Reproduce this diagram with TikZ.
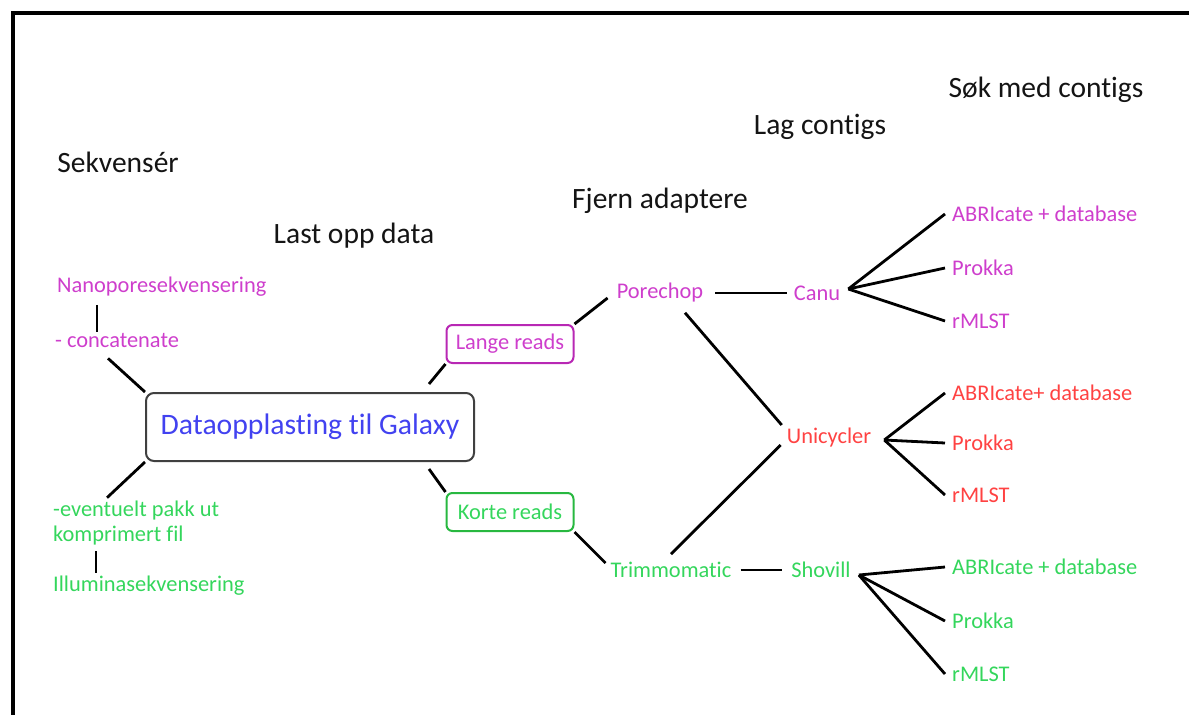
\documentclass[tikz,border=0pt]{standalone}
\usepackage{fontspec}
\setmainfont{Carlito}[Ligatures=NoCommon]
\usepackage{tikz}
\usetikzlibrary{calc,positioning}
\definecolor{nanoMagenta}{RGB}{206,62,204}
\definecolor{nanoMagentaDark}{RGB}{184,40,180}
\definecolor{uniRed}{RGB}{255,66,66}
\definecolor{illuGreen}{RGB}{52,214,92}
\definecolor{illuGreenDark}{RGB}{40,184,64}
\definecolor{galBlue}{RGB}{66,66,240}
\definecolor{boxgray}{RGB}{64,64,64}
\definecolor{hdrgray}{RGB}{20,20,20}

\tikzset{
  stage/.style={text=hdrgray, inner sep=0pt, font=\fontsize{29.5}{34}\selectfont},
  tool/.style={inner sep=0pt, font=\fontsize{22.4}{25}\selectfont},
  leaf/.style={tool, anchor=west, inner xsep=7pt},
  readsbox/.style={tool, draw, line width=2pt, rounded corners=6pt, minimum width=127pt, minimum height=38pt},
  galbox/.style={draw=boxgray, line width=2pt, rounded corners=8pt, minimum width=328pt, minimum height=68pt,
    text=galBlue, font=\fontsize{29.7}{34}\selectfont},
  link/.style={line width=2.8pt, black}
}

\begin{document}
\begin{tikzpicture}[x=1pt,y=-1pt]
    \useasboundingbox (0,0) rectangle (1189,715);
    \draw[line width=4pt] (12.5,715) |- (1189,12.5);

    \node[stage] (sekv) at (118,162) {Sekvensér};
    \node[stage] (lastopp) at (354,236) {Last opp data};
    \node[stage] (fjern) at (660,201) {Fjern adaptere};
    \node[stage] (lag) at (820,127) {Lag contigs};
    \node[stage] (sok) at (1046,90) {Søk med contigs};

    \node[galbox] (galaxy) at (310,427) {Dataopplasting til Galaxy};

    \node[tool, text=nanoMagenta, anchor=west] (nano) at (57,287) {Nanoporesekvensering};
    \node[tool, text=nanoMagenta, anchor=west] (concat) at (55,340) {- concatenate};
    \node[tool, text=illuGreen, anchor=west, align=left] (pakk) at (53,523) {-eventuelt pakk ut\\komprimert fil};
    \node[tool, text=illuGreen, anchor=west] (illu) at (53,586) {Illuminasekvensering};

    \draw[link] ([xshift=40pt,yshift=-8pt]nano.south west) -- ([xshift=42pt,yshift=1pt]concat.north west);
    \draw[link] ([xshift=53pt,yshift=-11pt]concat.south west) -- (galaxy.north west);
    \draw[link] (galaxy.south west) -- ([xshift=54pt,yshift=3pt]pakk.north west);
    \draw[link] ([xshift=43pt,yshift=-6pt]pakk.south west) -- ([xshift=43pt,yshift=3pt]illu.north west);

    \node[readsbox, draw=nanoMagentaDark, text=nanoMagenta] (lange) at (510,344) {Lange reads};
    \node[readsbox, draw=illuGreenDark, text=illuGreen] (korte) at (510,512) {Korte reads};

    \draw[link] ([xshift=-46pt,yshift=8pt]galaxy.north east) -- (lange.south west);
    \draw[link] ([xshift=-46pt,yshift=-7pt]galaxy.south east) -- (korte.north west);

    \node[tool, text=nanoMagenta] (porechop) at (660,293) {Porechop};
    \node[tool, text=illuGreen] (trimmo) at (671,570) {Trimmomatic};
    \node[tool, text=nanoMagenta] (canu) at (817,293) {Canu};
    \node[tool, text=uniRed] (unicycler) at (829,438) {Unicycler};
    \node[tool, text=illuGreen] (shovill) at (821,570) {Shovill};

    \draw[link] (lange.north east) -- ([xshift=-9pt,yshift=-5pt]porechop.west);
    \draw[link] (korte.south east) -- ([xshift=-5pt,yshift=7pt]trimmo.west);
    \draw[link] ([xshift=12pt]porechop.east) -- ([xshift=-7pt]canu.west);
    \draw[link] ([xshift=9pt]trimmo.east) -- ([xshift=-9pt]shovill.west);
    \draw[link] ([xshift=25pt,yshift=-10pt]porechop.south) -- ([xshift=-5pt,yshift=13pt]unicycler.west);
    \draw[link] ([yshift=8pt]trimmo.north) -- ([xshift=-6pt,yshift=-7pt]unicycler.west);

    \coordinate (canufan) at ([xshift=8pt,yshift=4pt]canu.east);
    \coordinate (unifan) at ([xshift=13pt,yshift=-2pt]unicycler.east);
    \coordinate (shofan) at ([xshift=8pt,yshift=-5pt]shovill.east);

    \node[leaf, text=nanoMagenta] (canuabr) at (945,214) {ABRIcate + database};
    \node[leaf, text=nanoMagenta] (canuprok) at (945,268) {Prokka};
    \node[leaf, text=nanoMagenta] (canurml) at (945,321) {rMLST};

    \node[leaf, text=uniRed] (uniabr) at (945,393) {ABRIcate+ database};
    \node[leaf, text=uniRed] (uniprok) at (945,443) {Prokka};
    \node[leaf, text=uniRed] (unirml) at (945,495) {rMLST};

    \node[leaf, text=illuGreen] (shoabr) at (945,567) {ABRIcate + database};
    \node[leaf, text=illuGreen] (shoprok) at (945,621) {Prokka};
    \node[leaf, text=illuGreen] (shorml) at (945,674) {rMLST};

    \foreach \leafname in {canuabr,canuprok,canurml}
        \draw[link] (canufan) -- (\leafname.west);
    \foreach \leafname in {uniabr,uniprok,unirml}
        \draw[link] (unifan) -- (\leafname.west);
    \foreach \leafname in {shoabr,shoprok,shorml}
        \draw[link] (shofan) -- (\leafname.west);
\end{tikzpicture}
\end{document}
